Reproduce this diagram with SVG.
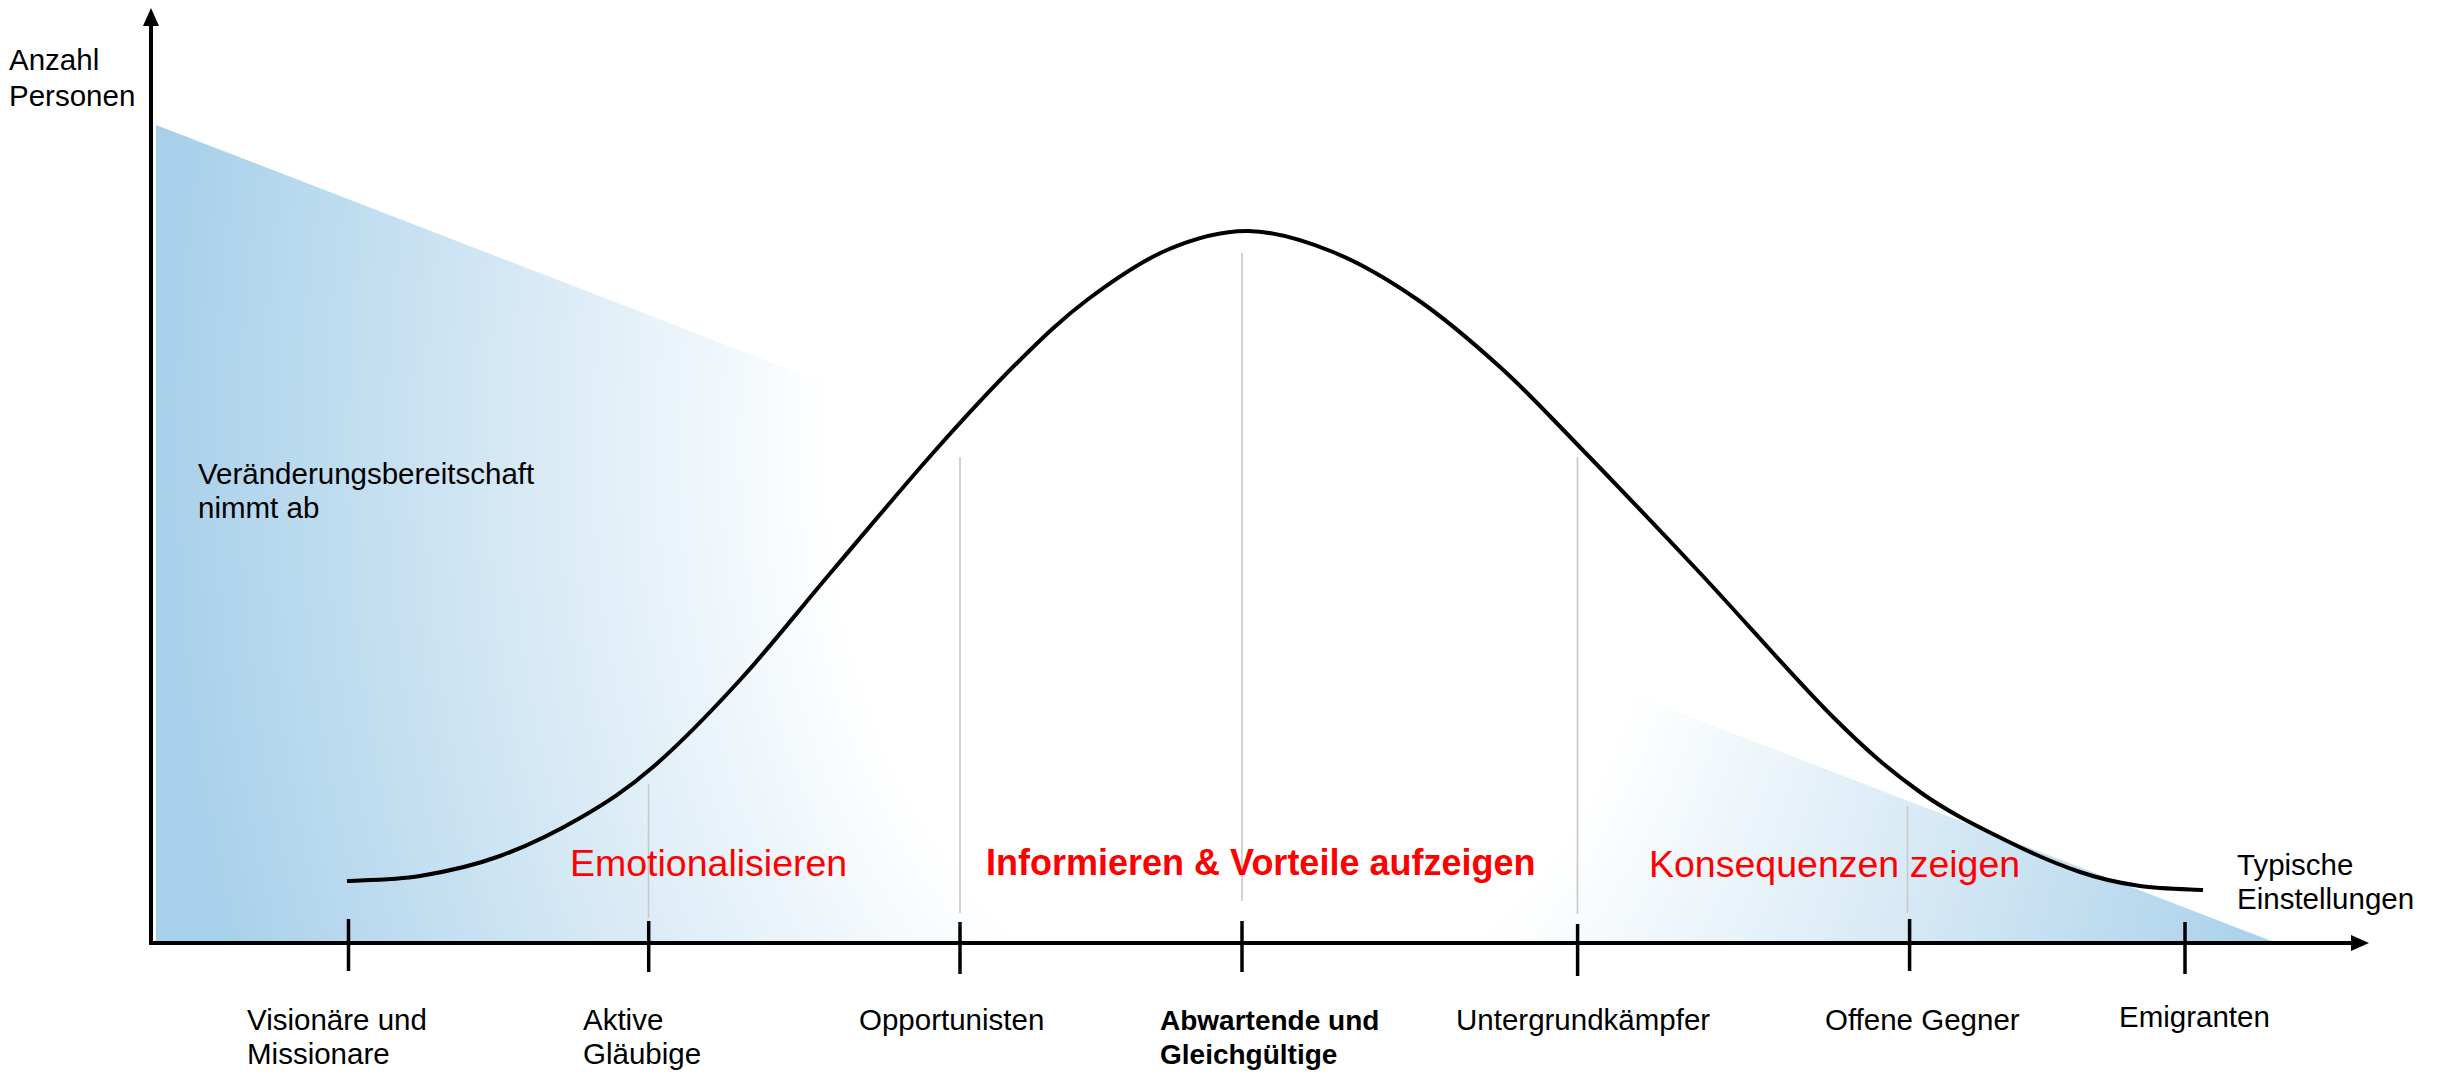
<svg xmlns="http://www.w3.org/2000/svg" width="2445" height="1077" viewBox="0 0 2445 1077">
  <style>
    .lbl { font-family: "Liberation Sans", Arial, sans-serif; font-size: 29.5px; fill: #000; }
    .lblb { font-family: "Liberation Sans", Arial, sans-serif; font-size: 28px; font-weight: bold; fill: #000; }
    .red { font-family: "Liberation Sans", Arial, sans-serif; font-size: 37.5px; fill: #ff0000; }
    .redb { font-family: "Liberation Sans", Arial, sans-serif; font-size: 36px; font-weight: bold; fill: #ff0000; }
    .guide { stroke: #c8c8c8; stroke-width: 1.6; fill: none; }
    .tick { stroke: #000; stroke-width: 3.5; fill: none; }
    .axis { stroke: #000; stroke-width: 4; fill: none; }
  </style>
  <defs>
    <radialGradient id="fade" gradientUnits="userSpaceOnUse" cx="0" cy="0" r="1" gradientTransform="translate(1250 450) scale(1092 1508)">
      <stop offset="0" stop-color="#ffffff"/>
      <stop offset="0.385" stop-color="#ffffff"/>
      <stop offset="1" stop-color="#a8d0ea"/>
    </radialGradient>
    <marker id="arrow" markerUnits="userSpaceOnUse" markerWidth="20" markerHeight="18" refX="6" refY="8" orient="auto">
      <path d="M0,0 L18,8 L0,16 z" fill="#000"/>
    </marker>
  </defs>
  <rect x="0" y="0" width="2445" height="1077" fill="#ffffff"/>

  <g id="readiness-area">
    <polygon points="156,125 2274,942 156,942" fill="url(#fade)"/>
  </g>

  <g id="guides">
    <line class="guide" x1="648.5" y1="784" x2="648.5" y2="918"/>
    <line class="guide" x1="960" y1="457" x2="960" y2="913"/>
    <line class="guide" x1="1242" y1="253" x2="1242" y2="901"/>
    <line class="guide" x1="1577.5" y1="457" x2="1577.5" y2="914"/>
    <line class="guide" x1="1907.5" y1="806" x2="1907.5" y2="913"/>
  </g>

  <g id="connectors">
    <line class="axis" x1="151" y1="945" x2="151" y2="20" marker-end="url(#arrow)"/>
    <line class="axis" x1="149" y1="943" x2="2357" y2="943" marker-end="url(#arrow)"/>
    <line class="tick" x1="348.5" y1="919" x2="348.5" y2="971"/>
    <line class="tick" x1="648.7" y1="921" x2="648.7" y2="972"/>
    <line class="tick" x1="960" y1="922" x2="960" y2="974"/>
    <line class="tick" x1="1242" y1="921" x2="1242" y2="972"/>
    <line class="tick" x1="1577.6" y1="924" x2="1577.6" y2="976"/>
    <line class="tick" x1="1909.6" y1="919" x2="1909.6" y2="971"/>
    <line class="tick" x1="2185" y1="922" x2="2185" y2="974"/>
  </g>

  <g id="bell-curve">
    <path fill="none" stroke="#000" stroke-width="4" stroke-linecap="butt" d="M347,881 C359.2,880.2 394.5,880.2 420,876 C445.5,871.8 473.3,865.7 500,856 C526.7,846.3 554.5,832.8 580,818 C605.5,803.2 626.3,790 653,767 C679.7,744 710,712.8 740,680 C770,647.2 800.8,607.8 833,570 C865.2,532.2 902.3,487.5 933,453 C963.7,418.5 991.3,388.5 1017,363 C1042.7,337.5 1062,318.8 1087,300 C1112,281.2 1140.2,261.5 1167,250 C1193.8,238.5 1220.3,230.7 1248,231 C1275.7,231.3 1304.7,240.5 1333,252 C1361.3,263.5 1390.2,280.8 1418,300 C1445.8,319.2 1474.2,343.7 1500,367 C1525.8,390.3 1539.7,405.7 1573,440 C1606.3,474.3 1656.7,526.8 1700,573 C1743.3,619.2 1796.3,680.5 1833,717 C1869.7,753.5 1891.3,771.5 1920,792 C1948.7,812.5 1978.3,826.7 2005,840 C2031.7,853.3 2057.5,864.3 2080,872 C2102.5,879.7 2119.5,883 2140,886 C2160.5,889 2192.5,889.3 2203,890"/>
  </g>

  <g id="axis-titles">
    <text class="lbl" x="9" y="70">Anzahl</text>
    <text class="lbl" x="9" y="106">Personen</text>
    <text class="lbl" x="2237" y="875">Typische</text>
    <text class="lbl" x="2237" y="909">Einstellungen</text>
  </g>

  <g id="readiness-label">
    <text class="lbl" x="198" y="484">Veränderungsbereitschaft</text>
    <text class="lbl" x="198" y="518">nimmt ab</text>
  </g>

  <g id="strategies">
    <text class="red" x="570" y="876">Emotionalisieren</text>
    <text class="redb" x="986" y="875">Informieren &amp; Vorteile aufzeigen</text>
    <text class="red" x="1649" y="877">Konsequenzen zeigen</text>
  </g>

  <g id="attitude-visionaere">
    <text class="lbl" x="247" y="1030">Visionäre und</text>
    <text class="lbl" x="247" y="1064">Missionare</text>
  </g>
  <g id="attitude-aktive">
    <text class="lbl" x="583" y="1030">Aktive</text>
    <text class="lbl" x="583" y="1064">Gläubige</text>
  </g>
  <g id="attitude-opportunisten">
    <text class="lbl" x="859" y="1030">Opportunisten</text>
  </g>
  <g id="attitude-abwartende">
    <text class="lblb" x="1160" y="1030">Abwartende und</text>
    <text class="lblb" x="1160" y="1064">Gleichgültige</text>
  </g>
  <g id="attitude-untergrund">
    <text class="lbl" x="1456" y="1030">Untergrundkämpfer</text>
  </g>
  <g id="attitude-gegner">
    <text class="lbl" x="1825" y="1030">Offene Gegner</text>
  </g>
  <g id="attitude-emigranten">
    <text class="lbl" x="2119" y="1027">Emigranten</text>
  </g>
</svg>
